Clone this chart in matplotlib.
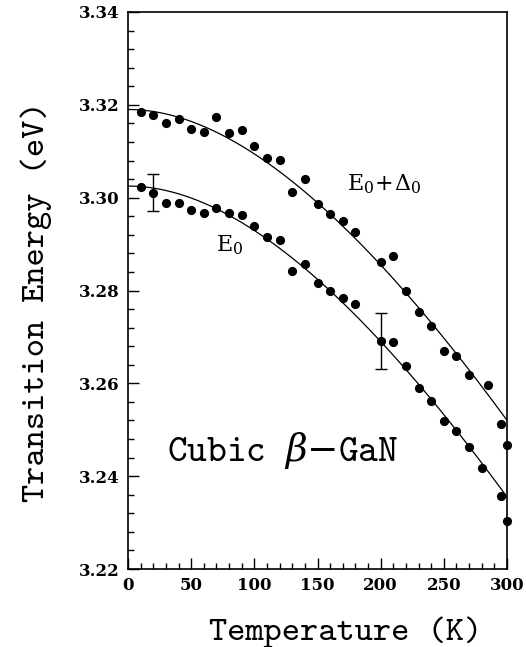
import numpy as np
import matplotlib
matplotlib.use("Agg")
import matplotlib.pyplot as plt
from matplotlib.ticker import MultipleLocator

# ---- data ----
temp_upper = [10, 20, 30, 40, 50, 60, 70, 80, 90, 100, 110, 120, 130, 140, 150,
              160, 170, 180, 200, 210, 220, 230, 240, 250, 260, 270, 285, 295, 300]
energy_upper = [3.3184, 3.3178, 3.3161, 3.3169, 3.3149, 3.3142, 3.3173, 3.3140,
                3.3146, 3.3111, 3.3085, 3.3082, 3.3012, 3.3041, 3.2986, 3.2965,
                3.2950, 3.2927, 3.2862, 3.2875, 3.2798, 3.2753, 3.2723, 3.2670,
                3.2658, 3.2618, 3.2597, 3.2512, 3.2468]

temp_lower = [10, 20, 30, 40, 50, 60, 70, 80, 90, 100, 110, 120, 130, 140, 150,
              160, 170, 180, 200, 210, 220, 230, 240, 250, 260, 270, 280, 295, 300]
energy_lower = [3.3023, 3.3011, 3.2988, 3.2988, 3.2974, 3.2968, 3.2978, 3.2966,
                3.2962, 3.2940, 3.2915, 3.2909, 3.2841, 3.2858, 3.2816, 3.2798,
                3.2784, 3.2771, 3.2691, 3.2688, 3.2638, 3.2589, 3.2563, 3.2518,
                3.2498, 3.2462, 3.2417, 3.2358, 3.2304]

# error bars on the E0 series
err_temp = [20, 200]
err_energy = [3.3011, 3.2691]
err_size = [0.004, 0.006]

# Varshni fit parameters (E(T) = E(0) - alpha T^2 / (T + beta))
fit_E0_upper = 3.3190
fit_E0_lower = 3.3025
fit_alpha = 6.697e-4
fit_beta = 600.0

x_ticks = [0, 50, 100, 150, 200, 250, 300]
y_ticks = [3.22, 3.24, 3.26, 3.28, 3.30, 3.32, 3.34]

# ---- figure ----
plt.rcParams['mathtext.fontset'] = 'dejavuserif'
TT = ['cmtt10', 'DejaVu Serif']
fig = plt.figure(figsize=(5.26, 6.47), dpi=100)
ax = fig.add_axes([128/526, 1 - 569/647, (507-128)/526, (569-12)/647])

T = np.linspace(0, 300, 301)
ax.plot(T, fit_E0_upper - fit_alpha * T**2 / (T + fit_beta), color='black', lw=0.9)
ax.plot(T, fit_E0_lower - fit_alpha * T**2 / (T + fit_beta), color='black', lw=0.9)

ax.plot(temp_upper, energy_upper, 'o', color='black', ms=5.6, clip_on=False, zorder=3)
ax.plot(temp_lower, energy_lower, 'o', color='black', ms=5.6, clip_on=False, zorder=3)
ax.errorbar(err_temp, err_energy, yerr=err_size, fmt='none', ecolor='black',
            elinewidth=1.0, capsize=4.5, capthick=1.0)

ax.set_xlim(0, 300)
ax.set_ylim(3.22, 3.34)
ax.set_xticks(x_ticks)
ax.set_yticks(y_ticks)
ax.set_xticklabels([str(v) for v in x_ticks])
ax.set_yticklabels([f"{v:.2f}" for v in y_ticks])
ax.xaxis.set_minor_locator(MultipleLocator(10))
ax.yaxis.set_minor_locator(MultipleLocator(0.004))
ax.tick_params(which='both', direction='in', top=False, right=False, width=1.0)
ax.tick_params(which='major', length=8, pad=6)
ax.tick_params(which='minor', length=4.5)
for lab in ax.get_xticklabels() + ax.get_yticklabels():
    lab.set_fontfamily('DejaVu Serif')
    lab.set_fontsize(12)
    lab.set_fontweight('bold')
for sp in ax.spines.values():
    sp.set_linewidth(1.2)

ax.set_xlabel('Temperature (K)', fontfamily=TT, fontsize=25)
ax.xaxis.set_label_coords(0.575, -0.085)
ax.set_ylabel('Transition Energy (eV)', fontfamily=TT, fontsize=25)
ax.yaxis.set_label_coords(-0.20, 0.48)

ax.text(173, 3.3029, r'$\mathrm{E}_{\mathit{0}}\!+\!\Delta_{\mathit{0}}$', fontsize=16,
        va='center', ha='left')
ax.text(70, 3.2898, r'$\mathrm{E}_{\mathit{0}}$', fontsize=16, va='center', ha='left')
ax.text(31, 3.2455, r'Cubic $\beta{-}$GaN', fontfamily=TT, fontsize=27,
        va='center', ha='left')

fig.savefig('out.png', dpi=100)
